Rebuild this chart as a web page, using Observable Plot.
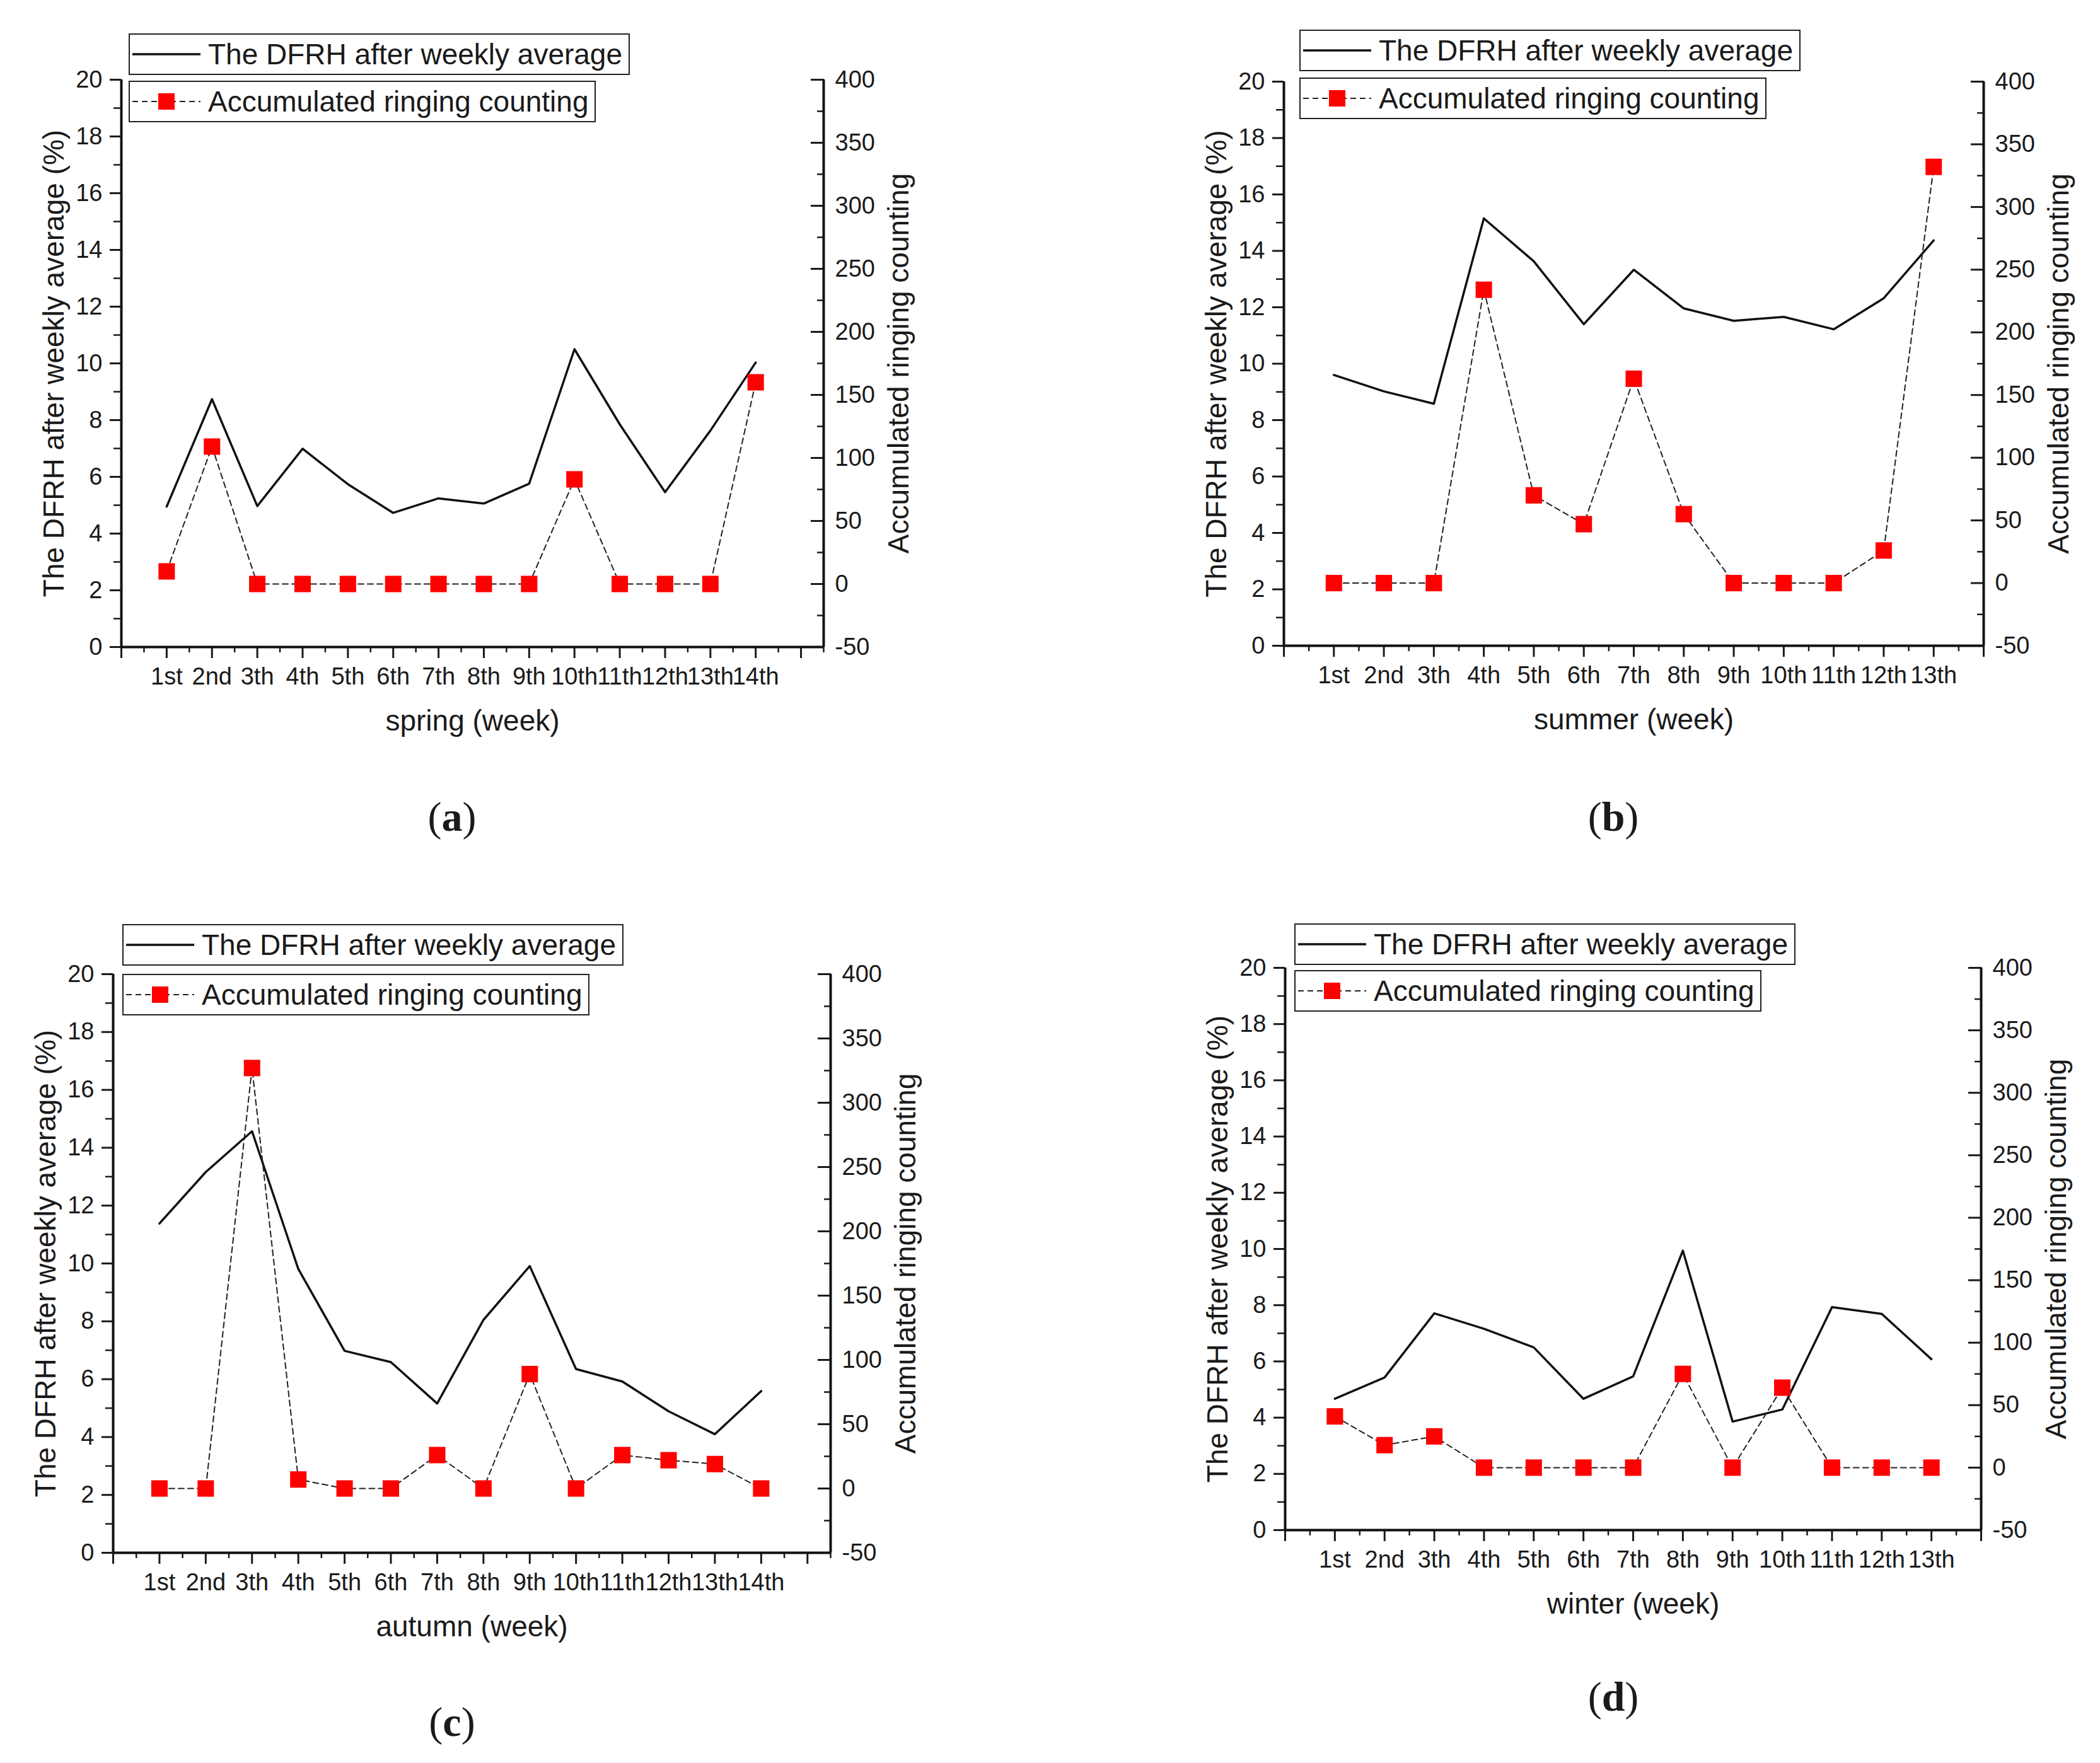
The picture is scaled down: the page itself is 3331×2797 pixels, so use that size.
<!DOCTYPE html>
<html>
<head>
<meta charset="utf-8">
<script src="https://cdn.jsdelivr.net/npm/d3@7"></script>
<script src="https://cdn.jsdelivr.net/npm/@observablehq/plot@0.6"></script>
<style>
  body { margin: 0; background: #fff; }
  #page { position: relative; width: 3331px; height: 2797px; background: #fff; font-family: "Liberation Sans", Arial, sans-serif; color: #1a1a1a; }
  .panel { position: absolute; }
  .legend { position: absolute; height: 66px; box-sizing: border-box; border: 2px solid #222; background: #fff;
            display: flex; align-items: center; padding: 0 10px 0 2px; font-size: 46px; white-space: nowrap; }
  .legend svg { margin-right: 10px; }
  .caption { position: absolute; transform: translate(-50%, -50%); font-family: "Liberation Serif", "Times New Roman", serif; font-size: 66px; }
</style>
</head>
<body>
<div id="page"></div>
<script>
// week tick labels (as printed, including "3th")
const weekLabels = ["1st", "2nd", "3th", "4th", "5th", "6th", "7th", "8th", "9th", "10th", "11th", "12th", "13th", "14th"]

// DFRH after weekly average (%)
const dfrhSpring = [4.95, 8.74, 4.97, 6.99, 5.74, 4.73, 5.24, 5.06, 5.76, 10.5, 7.85, 5.46, 7.63, 10.03]
const dfrhSummer = [9.6, 9.02, 8.58, 15.15, 13.63, 11.4, 13.33, 11.96, 11.52, 11.66, 11.22, 12.32, 14.37]
const dfrhAutumn = [11.38, 13.16, 14.57, 9.81, 6.98, 6.59, 5.16, 8.05, 9.91, 6.35, 5.92, 4.89, 4.1, 5.59]
const dfrhWinter = [4.67, 5.43, 7.71, 7.16, 6.5, 4.67, 5.47, 9.94, 3.86, 4.29, 7.93, 7.69, 6.08]

// accumulated ringing counting
const ringSpring = [10, 109, 0, 0, 0, 0, 0, 0, 0, 83, 0, 0, 0, 160]
const ringSummer = [0, 0, 0, 234, 70, 47, 163, 55, 0, 0, 0, 26, 332]
const ringAutumn = [0, 0, 327, 7, 0, 0, 26, 0, 89, 0, 26, 22, 19, 0]
const ringWinter = [41, 18, 25, 0, 0, 0, 0, 75, 0, 64, 0, 0, 0]

// axis ticks
const leftTicks = d3.range(0, 21, 2)
const leftMinor = d3.range(1, 20, 2)
const ringTicks = d3.range(-50, 401, 50)
const ringMinor = d3.range(-25, 400, 50)

const leftLabel = "The DFRH after weekly average (%)"
const rightLabel = "Accumulated ringing counting"
const legendLine = "The DFRH after weekly average"
const legendRing = "Accumulated ringing counting"

// right axis (-50..400) sits on the same height as left axis (0..20)
const ringMin = -50, ringMax = 400, leftMax = 20
const toLeft = c => (c - ringMin) * leftMax / (ringMax - ringMin)
const fromLeft = v => v * (ringMax - ringMin) / leftMax + ringMin

// layout of each sub-figure (page pixels)
const panels = [
  {tag: "a", xlabel: "spring (week)", dfrh: dfrhSpring, ring: ringSpring, xMax: 15.5,
   ox: 0, oy: 0, w: 1665, h: 1300, axL: 192, axR: 1306, top: 126, bot: 1026,
   legX: 204, leg1: 53, leg2: 128, capX: 717, capY: 1296},
  {tag: "b", xlabel: "summer (week)", dfrh: dfrhSummer, ring: ringSummer, xMax: 14,
   ox: 1665, oy: 0, w: 1665, h: 1300, axL: 2036, axR: 3146, top: 129, bot: 1024,
   legX: 2061, leg1: 47, leg2: 123, capX: 2559, capY: 1296},
  {tag: "c", xlabel: "autumn (week)", dfrh: dfrhAutumn, ring: ringAutumn, xMax: 15.5,
   ox: 0, oy: 1400, w: 1665, h: 1397, axL: 179, axR: 1317, top: 1545, bot: 2463,
   legX: 194, leg1: 1466, leg2: 1545, capX: 717, capY: 2732},
  {tag: "d", xlabel: "winter (week)", dfrh: dfrhWinter, ring: ringWinter, xMax: 14,
   ox: 1665, oy: 1400, w: 1665, h: 1397, axL: 2038, axR: 3142, top: 1535, bot: 2427,
   legX: 2053, leg1: 1465, leg2: 1539, capX: 2559, capY: 2692}
]

const page = d3.select("#page")

panels.forEach(p => {
  const n = p.dfrh.length
  const rows = p.dfrh.map((v, i) => ({week: i + 1, dfrh: v, ring: p.ring[i]}))

  const chart = Plot.plot({
    width: p.w,
    height: p.h,
    marginLeft: p.axL - p.ox,
    marginRight: p.ox + p.w - p.axR,
    marginTop: p.top - p.oy,
    marginBottom: p.h - (p.bot - p.oy),
    style: {fontFamily: "Liberation Sans, Arial, sans-serif", fontSize: "38px", color: "#1a1a1a", background: "transparent", overflow: "visible"},
    x: {domain: [0, p.xMax], label: null},
    y: {domain: [0, leftMax], label: null},
    marks: [
      // bottom axis: major / minor ticks, week labels
      Plot.axisX(d3.range(0, p.xMax + 0.01, 1), {tickSize: 18, strokeWidth: 3, fill: "none", label: null}),
      Plot.axisX(d3.range(0.5, p.xMax + 0.01, 1), {tickSize: 9, strokeWidth: 2.5, fill: "none", label: null}),
      Plot.axisX(d3.range(1, n + 1), {tickSize: 0, tickPadding: 33, tickFormat: d => weekLabels[d - 1], label: null}),
      // left axis
      Plot.axisY(leftTicks, {anchor: "left", tickSize: 18, tickPadding: 12, strokeWidth: 3, label: null}),
      Plot.axisY(leftMinor, {anchor: "left", tickSize: 12, strokeWidth: 2.5, fill: "none", label: null}),
      // right axis, ticks pointing inward
      Plot.axisY(ringTicks.map(toLeft), {anchor: "right", tickSize: 21, dx: -21, strokeWidth: 3, fill: "none", label: null}),
      Plot.axisY(ringMinor.map(toLeft), {anchor: "right", tickSize: 11, dx: -11, strokeWidth: 2.5, fill: "none", label: null}),
      Plot.axisY(ringTicks.map(toLeft), {anchor: "right", tickSize: 0, tickPadding: 18, tickFormat: d => Math.round(fromLeft(d)), label: null}),
      // axis lines
      Plot.ruleY([0], {stroke: "#111", strokeWidth: 4}),
      Plot.ruleX([0, p.xMax], {stroke: "#111", strokeWidth: 4}),
      // axis titles
      Plot.text([leftLabel], {frameAnchor: "left", dx: -106, rotate: -90, textAnchor: "middle", lineAnchor: "middle", fontSize: 46, fill: "#1a1a1a"}),
      Plot.text([rightLabel], {frameAnchor: "right", dx: 120, rotate: -90, textAnchor: "middle", lineAnchor: "middle", fontSize: 46, fill: "#1a1a1a"}),
      Plot.text([p.xlabel], {frameAnchor: "bottom", dy: 118, textAnchor: "middle", lineAnchor: "middle", fontSize: 46, fill: "#1a1a1a"}),
      // series
      Plot.line(rows, {x: "week", y: "dfrh", stroke: "#111", strokeWidth: 3.5}),
      Plot.line(rows, {x: "week", y: d => toLeft(d.ring), stroke: "#222", strokeWidth: 2, strokeDasharray: "9,6"}),
      Plot.dot(rows, {x: "week", y: d => toLeft(d.ring), symbol: "square", r: 14.7, fill: "#ff0000", stroke: "none"})
    ]
  })

  page.append("div").attr("class", "panel")
    .style("left", p.ox + "px").style("top", p.oy + "px")
    .append(() => chart)

  // legend boxes
  const l1 = page.append("div").attr("class", "legend")
    .style("left", p.legX + "px").style("top", p.leg1 + "px")
  l1.append("svg").attr("width", 112).attr("height", 40)
    .append("line").attr("x1", 2).attr("x2", 110).attr("y1", 20).attr("y2", 20)
    .attr("stroke", "#111").attr("stroke-width", 3.5)
  l1.append("span").text(legendLine)

  const l2 = page.append("div").attr("class", "legend")
    .style("left", p.legX + "px").style("top", p.leg2 + "px")
  const s2 = l2.append("svg").attr("width", 112).attr("height", 40)
  s2.append("line").attr("x1", 2).attr("x2", 110).attr("y1", 20).attr("y2", 20)
    .attr("stroke", "#222").attr("stroke-width", 2).attr("stroke-dasharray", "9,6")
  s2.append("rect").attr("x", 43).attr("y", 7).attr("width", 26).attr("height", 26).attr("fill", "#ff0000")
  l2.append("span").text(legendRing)

  // sub-figure caption
  page.append("div").attr("class", "caption")
    .style("left", p.capX + "px").style("top", p.capY + "px")
    .html(`(<b>${p.tag}</b>)`)
})
</script>
</body>
</html>
